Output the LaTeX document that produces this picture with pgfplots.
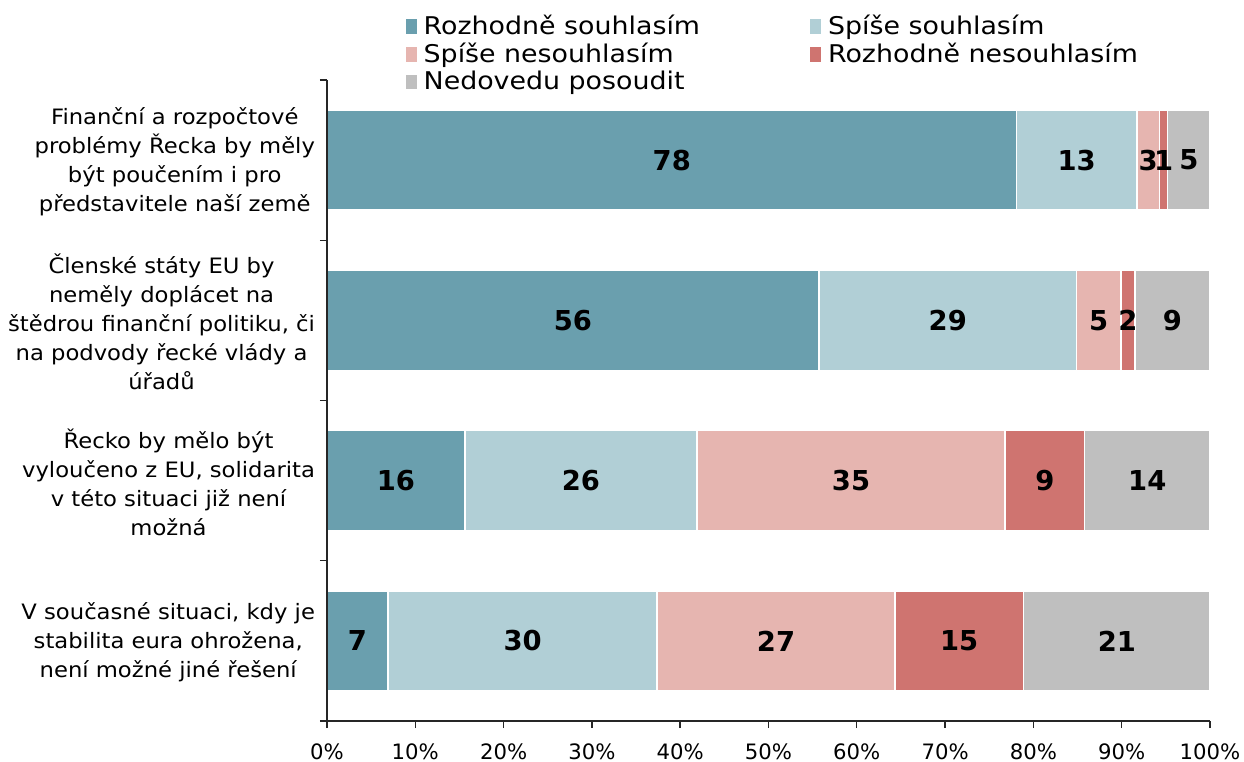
\documentclass[border=0pt]{standalone}
\usepackage{fontspec}
\setmainfont{DejaVu Sans}
\newfontfamily\catfont[FakeStretch=1.07]{DejaVu Sans}
\newfontfamily\legfont[FakeStretch=1.1]{DejaVu Sans}
\usepackage{pgfplots}
\usepackage{pgfplotstable}
\pgfplotsset{compat=1.18}
\definecolor{c1}{HTML}{6A9FAE}
\definecolor{c2}{HTML}{B1CFD6}
\definecolor{c3}{HTML}{E6B5B0}
\definecolor{c4}{HTML}{CF7470}
\definecolor{c5}{HTML}{BFBFBF}
\pgfplotstableread{
cat a la b lb c lc d ld e le
0 78.1 78 13.6 13 2.6 3 0.9 1 4.8 5
1 55.7 56 29.2 29 5.0 5 1.6 2 8.5 9
2 15.6 16 26.3 26 34.9 35 9.0 9 14.2 14
3 6.9 7 30.5 30 26.9 27 14.6 15 21.1 21
}\data
\begin{document}
\begin{tikzpicture}
\begin{axis}[
  name=ax,
  scale only axis,
  width=441.5pt, height=320.5pt,
  xbar stacked,
  bar width=50pt,
  y dir=reverse,
  xmin=0, xmax=100,
  ymin=-0.5, ymax=3.5,
  axis on top,
  axis x line*=bottom,
  axis y line*=left,
  axis line style={black!85, line width=0.7pt},
  tick align=outside,
  tickwidth=3.6pt,
  tick style={black!85, line width=0.7pt},
  xtick={0,10,...,100},
  xticklabel={\pgfmathprintnumber{\tick}\%},
  /pgf/number format/assume math mode=true,
  xticklabel style={font=\fontsize{10.6}{12}\selectfont, yshift=-4.3pt},
  ytick={-0.5,0.5,1.5,2.5,3.5},
  yticklabels={},
  extra y ticks={0,1,2,3},
  extra y tick labels={
    {Finanční a rozpočtové\\problémy Řecka by měly\\být poučením i pro\\představitele naší země},
    {Členské státy EU by\\neměly doplácet na\\štědrou finanční politiku, či\\na podvody řecké vlády a\\úřadů},
    {Řecko by mělo být\\vyloučeno z EU, solidarita\\v této situaci již není\\možná},
    {V současné situaci, kdy je\\stabilita eura ohrožena,\\není možné jiné řešení}},
  extra y tick style={tickwidth=0pt},
  yticklabel style={align=center, font=\catfont\fontsize{10.6}{14.5}\selectfont, xshift=-2.5pt, yshift=-0.8pt},
  point meta=explicit symbolic,
  nodes near coords,
  every node near coord/.append style={font=\fontsize{13.7}{16}\selectfont\bfseries, text=black},
  legend columns=2,
  legend cell align=left,
  legend style={draw=none, fill=none, at={(0.083,1)}, anchor=south west,
    xshift=-0.5pt, yshift=-10.7pt,
    font=\legfont\fontsize{12.2}{13.5}\selectfont, row sep=-1.2pt,
    /tikz/every even column/.append style={column sep=53pt}},
  legend image code/.code={\fill[#1,draw=none] (0pt,-3.6pt) rectangle (5.6pt,3.6pt); \path[draw=none,fill=none] (0pt,0pt) -- (7pt,0pt);},
  every axis plot/.append style={draw=white, line width=0.8pt},
]
\addplot[fill=c1] table[x=a, y=cat, meta=la] \data;
\addplot[fill=c2] table[x=b, y=cat, meta=lb] \data;
\addplot[fill=c3] table[x=c, y=cat, meta=lc] \data;
\addplot[fill=c4] table[x=d, y=cat, meta=ld] \data;
\addplot[fill=c5] table[x=e, y=cat, meta=le] \data;
\legend{Rozhodně souhlasím, Spíše souhlasím, Spíše nesouhlasím, Rozhodně nesouhlasím, Nedovedu posoudit}
\end{axis}
\pgfresetboundingbox
\path ([xshift=-163.5pt,yshift=-20.5pt]ax.south west) rectangle ([xshift=17pt,yshift=40pt]ax.north east);
\end{tikzpicture}
\end{document}
